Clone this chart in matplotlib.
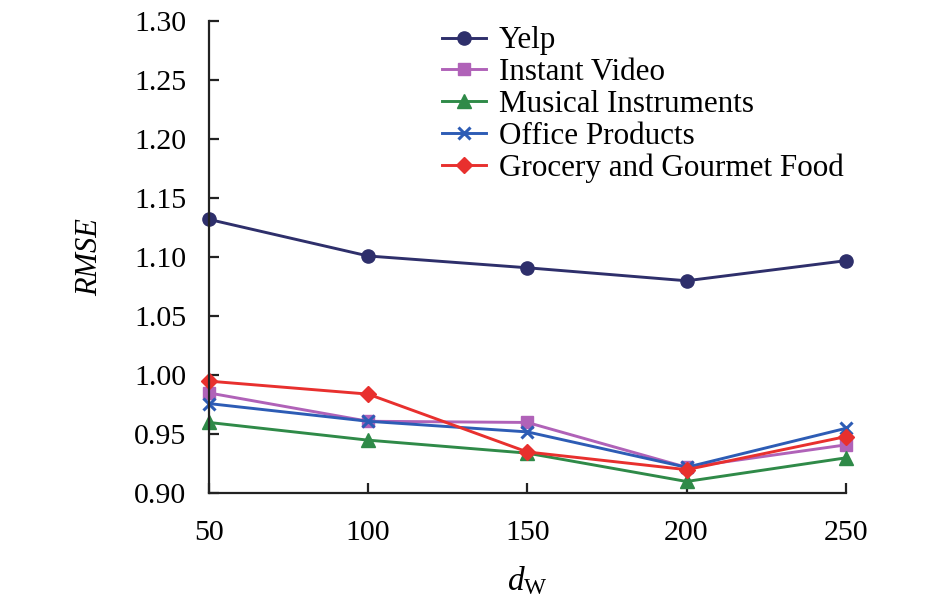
import matplotlib
matplotlib.use("Agg")
import matplotlib.pyplot as plt

plt.rcParams['font.family'] = ['Liberation Serif', 'DejaVu Serif']
plt.rcParams['mathtext.fontset'] = 'custom'
plt.rcParams['mathtext.rm'] = 'Liberation Serif'
plt.rcParams['mathtext.it'] = 'Liberation Serif:italic'

dims = [50, 100, 150, 200, 250]
yelp = [1.132, 1.101, 1.091, 1.080, 1.097]
instant_video = [0.985, 0.961, 0.960, 0.922, 0.941]
musical = [0.960, 0.945, 0.934, 0.910, 0.930]
office = [0.976, 0.961, 0.952, 0.922, 0.955]
grocery = [0.995, 0.984, 0.935, 0.920, 0.948]
yticks = [0.90, 0.95, 1.00, 1.05, 1.10, 1.15, 1.20, 1.25, 1.30]

series = [
    ("Yelp", yelp, "#2e2f6b", "o", 9.5),
    ("Instant Video", instant_video, "#b062b8", "s", 8.5),
    ("Musical Instruments", musical, "#2f8a48", "^", 10),
    ("Office Products", office, "#2d5cb5", "x", 8.5),
    ("Grocery and Gourmet Food", grocery, "#e8302e", "D", 8),
]

fig = plt.figure(figsize=(9.45, 6.09), dpi=100)
ax = fig.add_axes([0.221, 0.190, 0.674, 0.7755])

for name, vals, col, mk, ms in series:
    ax.plot(dims, vals, color=col, marker=mk, markersize=ms, linewidth=2.1,
            markeredgewidth=2.2 if mk == "x" else 1, label=name, clip_on=False)

ax.set_xlim(50, 250)
ax.set_ylim(0.90, 1.30)
ax.set_xticks(dims)
ax.set_yticks(yticks)
ax.set_yticklabels([f"{v:.2f}" for v in yticks])
for s in ["top", "right"]:
    ax.spines[s].set_visible(False)
for s in ["left", "bottom"]:
    ax.spines[s].set_linewidth(1.6)
    ax.spines[s].set_color("#222222")
ax.tick_params(direction="in", length=7.5, width=1.6, labelsize=21.5, pad=16, colors="#222222")
ax.tick_params(axis="x", pad=19)
for t in ax.get_xticklabels() + ax.get_yticklabels():
    t.set_color("black")

ax.set_ylabel("RMSE", fontsize=22, style="italic", labelpad=22)
ax.set_xlabel(r"$d_{\mathrm{W}}$", fontsize=24, labelpad=14)

leg = ax.legend(loc="upper left", bbox_to_anchor=(0.455, 0.977), bbox_transform=fig.transFigure,
                frameon=False, fontsize=22.4, handlelength=1.4, handletextpad=0.42,
                labelspacing=0.09, borderaxespad=0)

fig.savefig("out.png", dpi=100)
